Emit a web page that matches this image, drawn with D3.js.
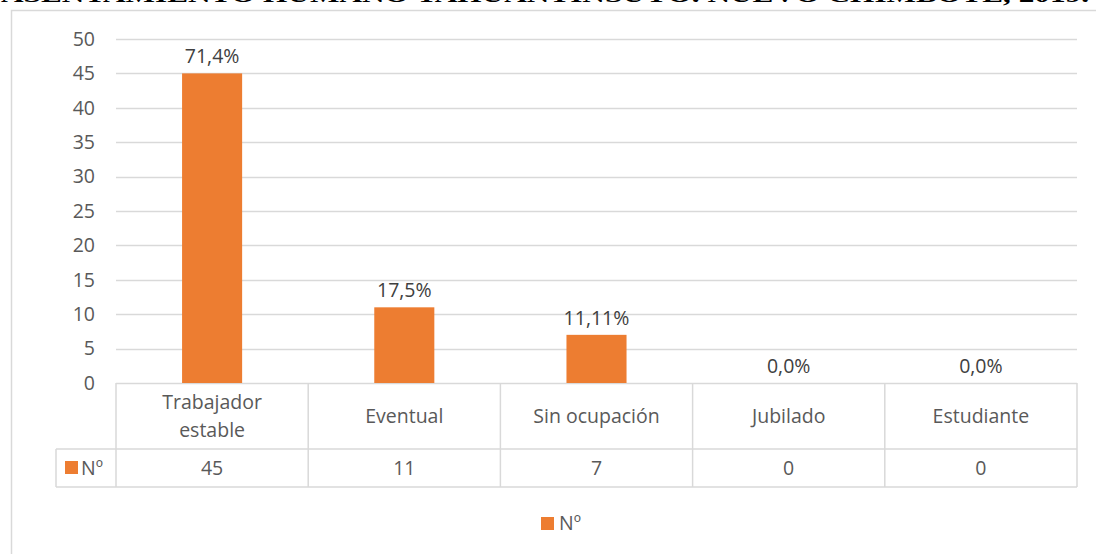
<!DOCTYPE html>
<html>
<head>
<meta charset="utf-8">
<script src="https://cdn.jsdelivr.net/npm/d3@7"></script>
<style>
  body { margin: 0; background: #fff; }
  svg { display: block; }
</style>
</head>
<body>
<div id="chart"></div>
<script>
const categories = ["Trabajador estable", "Eventual", "Sin ocupación", "Jubilado", "Estudiante"];
const values = [45, 11, 7, 0, 0];
const percentLabels = ["71,4%", "17,5%", "11,11%", "0,0%", "0,0%"];
const yTicks = [0, 5, 10, 15, 20, 25, 30, 35, 40, 45, 50];
const seriesName = "Nº";
const title = "ASENTAMIENTO HUMANO TAHUANTINSUYO. NUEVO CHIMBOTE, 2019.";

const width = 1096;
const height = 554;
const margin = { top: 39, left: 116, right: 19, bottom: 171 };
const orange = "#ED7D31";
const grid = "#D9D9D9";
const font = "'Open Sans', sans-serif";
const fontSize = "19.5px";

const svg = d3.select("#chart").append("svg")
  .attr("width", width)
  .attr("height", height);

// document title, cut off at the top like the source page
svg.append("text")
  .attr("x", 1)
  .attr("y", 2)
  .attr("textLength", 1088)
  .attr("lengthAdjust", "spacingAndGlyphs")
  .style("font-family", "'Liberation Serif', 'Times New Roman', serif")
  .style("font-weight", "bold")
  .style("font-size", "22px")
  .style("fill", "#000")
  .text(title);

// chart frame
svg.append("rect")
  .attr("x", 11.5)
  .attr("y", 10.5)
  .attr("width", 1100)
  .attr("height", 600)
  .attr("fill", "none")
  .attr("stroke", grid)
  .attr("stroke-width", 1.5);

const plotW = width - margin.left - margin.right;
const plotBottom = 383;

const x = d3.scaleBand()
  .domain(categories)
  .range([margin.left, margin.left + plotW])
  .paddingInner(0.6875)
  .paddingOuter(0.34375);

const y = d3.scaleLinear()
  .domain([0, 50])
  .range([plotBottom, margin.top]);

// gridlines
svg.append("g")
  .selectAll("line")
  .data(yTicks)
  .enter()
  .append("line")
  .attr("x1", margin.left)
  .attr("x2", margin.left + plotW)
  .attr("y1", d => Math.round(y(d)) + 0.5)
  .attr("y2", d => Math.round(y(d)) + 0.5)
  .attr("stroke", grid)
  .attr("stroke-width", 1.5);

// y tick labels
svg.append("g")
  .selectAll("text")
  .data(yTicks)
  .enter()
  .append("text")
  .attr("x", 95)
  .attr("y", d => y(d))
  .attr("dy", "0.35em")
  .attr("text-anchor", "end")
  .style("font-family", font)
  .style("font-size", fontSize)
  .style("fill", "#595959")
  .text(d => d);

// bars
svg.append("g")
  .selectAll("rect")
  .data(values)
  .enter()
  .append("rect")
  .attr("x", (d, i) => x(categories[i]))
  .attr("y", d => y(d))
  .attr("width", x.bandwidth())
  .attr("height", d => y(0) - y(d))
  .attr("fill", orange);

// data labels
svg.append("g")
  .selectAll("text")
  .data(values)
  .enter()
  .append("text")
  .attr("x", (d, i) => x(categories[i]) + x.bandwidth() / 2)
  .attr("y", d => y(d) - 10)
  .attr("text-anchor", "middle")
  .style("font-family", font)
  .style("font-size", fontSize)
  .style("fill", "#404040")
  .text((d, i) => percentLabels[i]);

// data table
const colW = plotW / categories.length;
const rowDiv = 449;
const tableBottom = 487;
const tableLeft = 56;
const table = svg.append("g")
  .attr("stroke", grid)
  .attr("stroke-width", 1.5)
  .attr("fill", "none");

table.append("line")
  .attr("x1", tableLeft).attr("x2", margin.left + plotW)
  .attr("y1", rowDiv).attr("y2", rowDiv);
table.append("line")
  .attr("x1", tableLeft).attr("x2", margin.left + plotW)
  .attr("y1", tableBottom).attr("y2", tableBottom);
table.append("line")
  .attr("x1", tableLeft).attr("x2", tableLeft)
  .attr("y1", rowDiv).attr("y2", tableBottom);
table.selectAll(".col")
  .data(d3.range(categories.length + 1))
  .enter()
  .append("line")
  .attr("x1", i => margin.left + i * colW)
  .attr("x2", i => margin.left + i * colW)
  .attr("y1", plotBottom)
  .attr("y2", tableBottom);

// category labels
const catText = svg.append("g")
  .selectAll("text")
  .data(categories)
  .enter()
  .append("text")
  .attr("text-anchor", "middle")
  .style("font-family", font)
  .style("font-size", fontSize)
  .style("fill", "#595959");

catText.each(function(d, i) {
  const cx = margin.left + i * colW + colW / 2;
  const words = d === "Trabajador estable" ? ["Trabajador", "estable"] : [d];
  const mid = (plotBottom + rowDiv) / 2;
  const lineH = 28;
  words.forEach((w, k) => {
    d3.select(this).append("tspan")
      .attr("x", cx)
      .attr("y", mid + (k - (words.length - 1) / 2) * lineH)
      .attr("dy", "0.35em")
      .text(w);
  });
});

// value row
svg.append("g")
  .selectAll("text")
  .data(values)
  .enter()
  .append("text")
  .attr("x", (d, i) => margin.left + i * colW + colW / 2)
  .attr("y", (rowDiv + tableBottom) / 2)
  .attr("dy", "0.35em")
  .attr("text-anchor", "middle")
  .style("font-family", font)
  .style("font-size", fontSize)
  .style("fill", "#595959")
  .text(d => d);

// legend key in table
svg.append("rect")
  .attr("x", 65).attr("y", 461)
  .attr("width", 13).attr("height", 13)
  .attr("fill", orange);
svg.append("text")
  .attr("x", 81)
  .attr("y", (rowDiv + tableBottom) / 2)
  .attr("dy", "0.35em")
  .style("font-family", font)
  .style("font-size", fontSize)
  .style("fill", "#595959")
  .text(seriesName);

// bottom legend
svg.append("rect")
  .attr("x", 541).attr("y", 517)
  .attr("width", 13).attr("height", 13)
  .attr("fill", orange);
svg.append("text")
  .attr("x", 559)
  .attr("y", 523)
  .attr("dy", "0.35em")
  .style("font-family", font)
  .style("font-size", fontSize)
  .style("fill", "#595959")
  .text(seriesName);
</script>
</body>
</html>
